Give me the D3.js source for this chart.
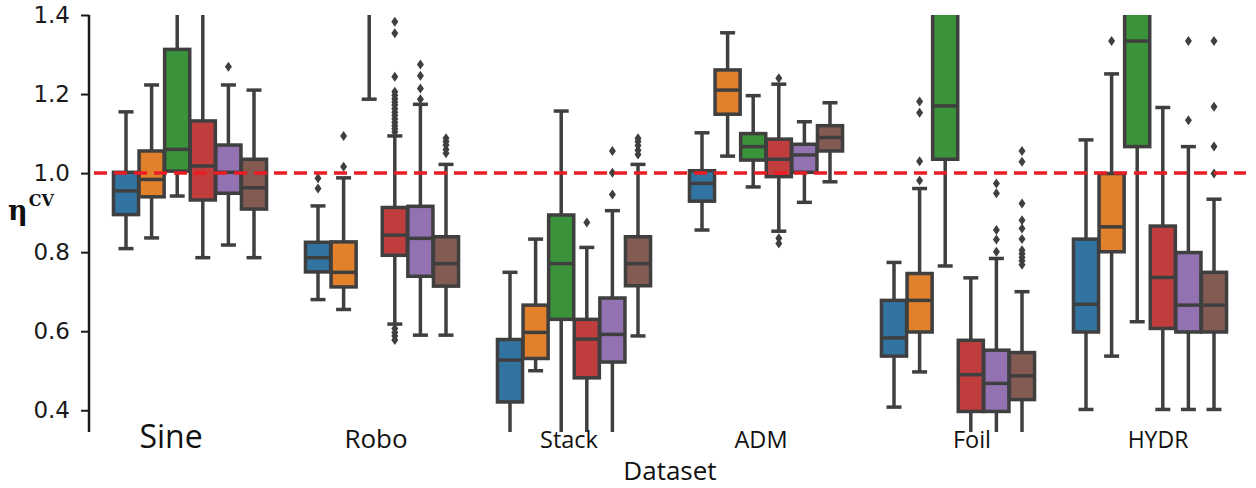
<!DOCTYPE html>
<html>
<head>
<meta charset="utf-8">
<script src="https://cdn.jsdelivr.net/npm/d3@7"></script>
<style>
  body { margin: 0; background: #fff; }
  .ytick { font-family: "DejaVu Sans", sans-serif; font-size: 23px; fill: #1a1a1a; }
  .xlab { font-family: "Open Sans", sans-serif; fill: #111; }
</style>
</head>
<body>
<div id="chart"></div>
<script>
// ---------- données ----------
const datasets = ["Sine", "Robo", "Stack", "ADM", "Foil", "HYDR"];
const models = ["M1", "M2", "M3", "M4", "M5", "M6"];
const colors = ["#3274a1", "#e1812c", "#3a923a", "#c03d3e", "#9372b2", "#845b53"];
const yTicks = [0.4, 0.6, 0.8, 1.0, 1.2, 1.4];
const refLine = 1.0;

// [moustache basse, q1, médiane, q3, moustache haute] par modèle
const sineStats = [
  [0.809, 0.895, 0.955, 1.002, 1.155],
  [0.836, 0.940, 0.984, 1.056, 1.223],
  [0.942, 1.005, 1.060, 1.313, 1.620],
  [0.786, 0.932, 1.018, 1.132, 1.420],
  [0.818, 0.949, 1.002, 1.071, 1.223],
  [0.786, 0.909, 0.963, 1.035, 1.210]
];
const roboStats = [
  [0.680, 0.750, 0.786, 0.825, 0.917],
  [0.655, 0.712, 0.749, 0.826, 0.988],
  [1.187, 1.550, 1.850, 2.200, 2.900],
  [0.618, 0.792, 0.843, 0.913, 1.094],
  [0.590, 0.739, 0.835, 0.916, 1.174],
  [0.590, 0.714, 0.771, 0.839, 1.022]
];
const stackStats = [
  [0.300, 0.421, 0.527, 0.579, 0.749],
  [0.500, 0.531, 0.597, 0.666, 0.833],
  [0.250, 0.630, 0.771, 0.894, 1.157],
  [0.300, 0.482, 0.580, 0.630, 0.812],
  [0.320, 0.522, 0.592, 0.684, 0.905],
  [0.588, 0.715, 0.771, 0.839, 1.022]
];
const admStats = [
  [0.856, 0.929, 0.974, 1.006, 1.102],
  [1.043, 1.149, 1.210, 1.261, 1.355],
  [0.965, 1.033, 1.067, 1.100, 1.196],
  [0.853, 0.991, 1.035, 1.086, 1.225],
  [0.926, 1.002, 1.046, 1.073, 1.130],
  [0.978, 1.056, 1.090, 1.120, 1.178]
];
const foilStats = [
  [0.408, 0.537, 0.583, 0.678, 0.774],
  [0.497, 0.598, 0.678, 0.746, 0.961],
  [0.765, 1.035, 1.170, 1.900, 2.500],
  [0.250, 0.397, 0.490, 0.577, 0.735],
  [0.250, 0.397, 0.468, 0.552, 0.784],
  [0.280, 0.427, 0.487, 0.546, 0.700]
];
const hydrStats = [
  [0.402, 0.598, 0.668, 0.833, 1.084],
  [0.537, 0.801, 0.864, 0.999, 1.251],
  [0.624, 1.067, 1.334, 1.550, 2.000],
  [0.402, 0.607, 0.736, 0.866, 1.166],
  [0.402, 0.598, 0.666, 0.799, 1.067],
  [0.402, 0.598, 0.666, 0.749, 0.934]
];

// valeurs aberrantes par modèle
const sineOut = [[], [], [], [], [1.269], []];
const roboOut = [
  [0.987, 0.961],
  [1.094, 1.016],
  [],
  [1.383, 1.354, 1.244, 1.206, 1.197, 1.188, 1.180, 1.172, 1.163, 1.154, 1.146, 1.137, 1.128, 1.120, 1.112, 1.104,
   0.607, 0.597, 0.588, 0.578],
  [1.275, 1.246, 1.214, 1.187],
  [1.088, 1.080, 1.071, 1.060, 1.050]
];
const stackOut = [[], [], [], [0.875], [1.056, 1.001, 0.946], [1.088, 1.080, 1.070, 1.058, 1.047]];
const admOut = [[], [], [], [1.240, 0.835, 0.822], [], []];
const foilOut = [
  [],
  [1.181, 1.153, 1.030, 0.981],
  [],
  [],
  [0.974, 0.949, 0.856, 0.832, 0.801],
  [1.056, 1.029, 0.923, 0.881, 0.860, 0.833, 0.805, 0.796, 0.787, 0.778, 0.768]
];
const hydrOut = [[], [1.334], [], [], [1.334, 1.134], [1.334, 1.168, 1.067, 0.999]];

const allStats = [sineStats, roboStats, stackStats, admStats, foilStats, hydrStats];
const allOut = [sineOut, roboOut, stackOut, admOut, foilOut, hydrOut];

// ---------- mise en page ----------
const width = 1256, height = 488;
const plotLeft = 94, plotRight = 1246, plotTop = 15, plotBottom = 432;
const spineX = 89;
const edge = "#3f3f3f";
const lw = 3.5;

// étiquettes de l'axe x placées à la main sur l'original
const labelNudge = { Sine: -19, Robo: -6, Stack: -5, ADM: -5, Foil: 14, HYDR: 8 };
const labelSize = { Sine: 32, Robo: 26, Stack: 23.5, ADM: 23.5, Foil: 23.5, HYDR: 23 };

const svg = d3.select("#chart").append("svg")
  .attr("width", width)
  .attr("height", height);

const x = d3.scaleBand().domain(datasets).range([plotLeft, plotRight]);
const hue = d3.scaleBand().domain(models).range([-0.4 * x.step(), 0.4 * x.step()]);
const y = d3.scaleLinear().domain([0.345, 1.4]).range([plotBottom, plotTop]);

svg.append("defs").append("clipPath").attr("id", "clip")
  .append("rect")
  .attr("x", plotLeft - 10).attr("y", plotTop)
  .attr("width", plotRight - plotLeft + 20).attr("height", plotBottom - plotTop);

const plot = svg.append("g").attr("clip-path", "url(#clip)");

// boîtes
const boxW = hue.bandwidth() * 0.98;
const capW = 7.5;
datasets.forEach((ds, i) => {
  allStats[i].forEach((s, j) => {
    const cx = x(ds) + x.bandwidth() / 2 + hue(models[j]) + hue.bandwidth() / 2;
    const g = plot.append("g");
    const [lo, q1, med, q3, hi] = s;
    // moustaches
    g.append("line").attr("x1", cx).attr("x2", cx).attr("y1", y(q3)).attr("y2", y(hi))
      .attr("stroke", edge).attr("stroke-width", lw);
    g.append("line").attr("x1", cx).attr("x2", cx).attr("y1", y(q1)).attr("y2", y(lo))
      .attr("stroke", edge).attr("stroke-width", lw);
    [lo, hi].forEach(v => {
      g.append("line").attr("x1", cx - capW).attr("x2", cx + capW)
        .attr("y1", y(v)).attr("y2", y(v))
        .attr("stroke", edge).attr("stroke-width", lw);
    });
    // boîte
    g.append("rect")
      .attr("x", cx - boxW / 2).attr("width", boxW)
      .attr("y", y(q3)).attr("height", y(q1) - y(q3))
      .attr("fill", colors[j]).attr("stroke", edge).attr("stroke-width", lw);
    // médiane
    g.append("line").attr("x1", cx - boxW / 2).attr("x2", cx + boxW / 2)
      .attr("y1", y(med)).attr("y2", y(med))
      .attr("stroke", edge).attr("stroke-width", lw);
    // points aberrants (losanges)
    g.selectAll("path.flier")
      .data(allOut[i][j])
      .enter()
      .append("path")
      .attr("class", "flier")
      .attr("d", d => `M${cx},${y(d) - 5}L${cx + 3.5},${y(d)}L${cx},${y(d) + 5}L${cx - 3.5},${y(d)}Z`)
      .attr("fill", edge);
  });
});

// ligne de référence
svg.append("line")
  .attr("x1", plotLeft).attr("x2", plotRight)
  .attr("y1", y(refLine)).attr("y2", y(refLine))
  .attr("stroke", "#ec1c24").attr("stroke-width", 3.5)
  .attr("stroke-dasharray", "13,7");

// axe y
const yAxis = svg.append("g")
  .attr("transform", `translate(${spineX},0)`)
  .call(d3.axisLeft(y).tickValues(yTicks).tickFormat(d3.format(".1f")).tickSize(8).tickSizeOuter(0).tickPadding(11));
yAxis.select(".domain").remove();
yAxis.selectAll(".tick line").attr("stroke", "#1a1a1a").attr("stroke-width", 2);
yAxis.selectAll(".tick text").attr("class", "ytick").attr("fill", null);
svg.append("line")
  .attr("x1", spineX).attr("x2", spineX)
  .attr("y1", plotTop).attr("y2", plotBottom)
  .attr("stroke", "#1a1a1a").attr("stroke-width", 2.5);

// étiquettes x
svg.selectAll("text.xlab")
  .data(datasets)
  .enter()
  .append("text")
  .attr("class", "xlab")
  .attr("x", d => x(d) + x.bandwidth() / 2 + labelNudge[d])
  .attr("y", 448)
  .attr("text-anchor", "middle")
  .style("font-size", d => labelSize[d] + "px")
  .text(d => d);

svg.append("text")
  .attr("class", "xlab")
  .attr("x", (plotLeft + plotRight) / 2)
  .attr("y", 480)
  .attr("text-anchor", "middle")
  .style("font-size", "26px")
  .text("Dataset");

// étiquette y : η^CV
const ylab = svg.append("text")
  .attr("x", 8).attr("y", 220)
  .style("font-family", "'DejaVu Serif', serif")
  .style("font-weight", "bold")
  .style("font-size", "27px")
  .attr("fill", "#111");
ylab.append("tspan").text("η");
ylab.append("tspan").attr("dy", -14).attr("dx", 1).style("font-size", "16px").text("CV");
</script>
</body>
</html>
